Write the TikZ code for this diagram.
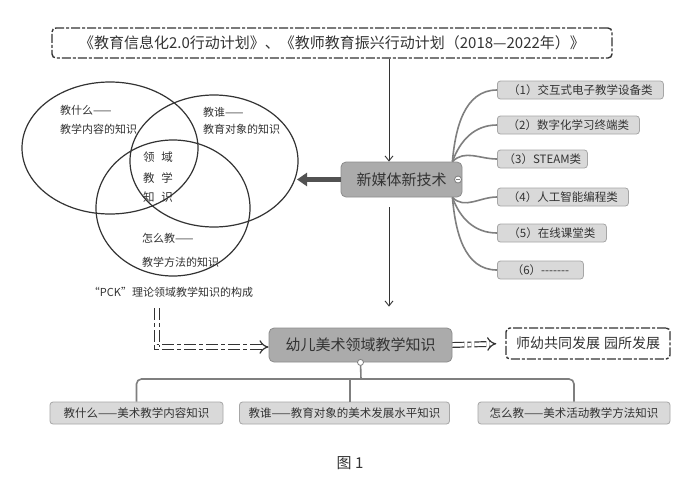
\documentclass[tikz,border=0pt]{standalone}
\usepackage{fontspec}
\setmainfont{Noto Sans CJK SC}
\usetikzlibrary{arrows.meta,calc}
\definecolor{dk}{HTML}{333333}
\definecolor{boxfill}{HTML}{ABABAB}
\definecolor{boxdraw}{HTML}{8C8C8C}
\definecolor{sfill}{HTML}{D9D9D9}
\definecolor{sdraw}{HTML}{A6A6A6}
\definecolor{br}{HTML}{7F7F7F}
\begin{document}
\begin{tikzpicture}[x=1pt,y=-1pt,
  fs/.style={font=\fontsize{#1}{#1}\selectfont},
  dashbox/.style={draw=dk, line width=1.4pt, rounded corners=4pt, dash pattern=on 9pt off 2pt on 3pt off 2pt, inner sep=0pt, text=dk},
  mainbox/.style={draw=boxdraw, fill=boxfill, rounded corners=5pt, line width=0.8pt, inner sep=0pt, text=dk, fs=15},
  smallbox/.style={draw=sdraw, fill=sfill, rounded corners=3pt, line width=0.8pt, inner sep=0pt, minimum height=18pt, text=dk, fs=11.5, anchor=west},
  botbox/.style={draw=sdraw, fill=sfill, rounded corners=3pt, line width=0.8pt, inner sep=0pt, minimum height=22pt, text=dk, fs=11.5},
  branch/.style={draw=br, line width=1.6pt},
  thinarrow/.style={draw=dk, line width=0.9pt, -{Straight Barb[length=5pt,width=8pt]}},
  dbl/.style={draw=dk, double=white, double distance=3.5pt, line width=1.2pt, dash pattern=on 12pt off 3pt on 4pt off 3pt, -{Implies[length=6pt]}},
  venn/.style={draw=dk, line width=1.2pt},
  vt/.style={text=dk, fs=11, inner sep=0pt},
  knob/.style={circle, draw=br, fill=white, line width=0.8pt, minimum size=7pt, inner sep=0pt},
]
\fill[white] (0,0) rectangle (700,501);
\useasboundingbox (0,0) rectangle (700,501);

% top box
\node[dashbox, minimum width=560pt, minimum height=30pt, fs=15] (top) at (332,43)
  {《教育信息化2.0行动计划》、《教师教育振兴行动计划（2018—2022年）》};

% Venn
\draw[venn] (110,148) ellipse [x radius=88, y radius=66];
\draw[venn] (214,161) ellipse [x radius=84, y radius=66];
\draw[venn] (173,208) ellipse [x radius=77, y radius=68];
\node[vt, anchor=west] (w1) at (60,110) {教什么——};
\node[vt, anchor=west] (w2) at (60,129) {教学内容的知识};
\node[vt, anchor=west] (s1) at (203,112) {教谁——};
\node[vt, anchor=west] (s2) at (203,129) {教育对象的知识};
\node[vt, fs=11.5] (c1) at (158,157) {领\hspace{7pt}域};
\node[vt, fs=11.5] (c2) at (158,178) {教\hspace{7pt}学};
\node[vt, fs=11.5] (c3) at (158,197) {知\hspace{7pt}识};
\node[vt, anchor=west] (h1) at (142,238) {怎么教——};
\node[vt, anchor=west] (h2) at (142,262) {教学方法的知识};
\node[vt] (pck) at (171,292) {“PCK”理论领域教学知识的构成};
\coordinate (venn) at (297,179.5);

% main boxes
\node[mainbox, minimum width=121pt, minimum height=35pt] (nm) at (401.5,179.5) {新媒体新技术};
\node[mainbox, minimum width=183pt, minimum height=34pt] (yy) at (360.5,345) {幼儿美术领域教学知识};
\node[dashbox, minimum width=164pt, minimum height=31pt, fs=14] (fz) at (588,343.5) {师幼共同发展\hspace{4pt}园所发展};

% right branch boxes
\node[smallbox, minimum width=166pt] (r1) at (497,90) {（1）交互式电子教学设备类};
\node[smallbox, minimum width=142pt] (r2) at (497,125) {（2）数字化学习终端类};
\node[smallbox, minimum width=90pt] (r3) at (497,159) {（3）STEAM类};
\node[smallbox, minimum width=131pt] (r4) at (497,197) {（4）人工智能编程类};
\node[smallbox, minimum width=109pt] (r5) at (497,233) {（5）在线课堂类};
\node[smallbox, minimum width=86pt] (r6) at (497,270) {（6）-{}-{}-{}-{}-{}-{}-};

\draw[branch] ([xshift=-10pt]nm.north east) to[out=85,in=180] (r1.west);
\draw[branch] ([xshift=-10pt]nm.north east) to[out=70,in=180] (r2.west);
\draw[branch] ([xshift=-10pt]nm.north east) to[out=45,in=180] (r3.west);
\draw[branch] ([xshift=-10pt]nm.south east) to[out=-45,in=180] (r4.west);
\draw[branch] ([xshift=-10pt]nm.south east) to[out=-70,in=180] (r5.west);
\draw[branch] ([xshift=-10pt]nm.south east) to[out=-85,in=180] (r6.west);
\node[knob] (nmk) at (458,179.5) {};
\draw[br, line width=0.8pt] ([xshift=-2pt]nmk.center) -- ([xshift=2pt]nmk.center);

% bottom boxes
\node[botbox, minimum width=173pt] (b1) at (136.5,413) {教什么——美术教学内容知识};
\node[botbox, minimum width=210pt] (b2) at (344.5,413) {教谁——教育对象的美术发展水平知识};
\node[botbox, minimum width=192pt] (b3) at (574,413) {怎么教——美术活动教学方法知识};
\coordinate (hb) at (361,379);
\coordinate (hm) at (350,379);
\draw[branch] (yy.south) -- (hb);
\draw[branch, rounded corners=5pt] (b1.north) |- (hb) -| (b3.north);
\draw[branch] (hm) -- (b2.north -| hm);
\node[knob, minimum size=6pt] (yyk) at (yy.south) {};

% arrows
\coordinate (ax) at (389,0);
\draw[thinarrow] (top.south -| ax) -- (nm.north -| ax);
\draw[thinarrow, shorten <=10pt, shorten >=21pt] (nm.south -| ax) -- (yy.north -| ax);
\draw[draw=dk!85, line width=5pt, -{Triangle[length=10pt,width=13pt]}] (nm.west) -- (venn);
\coordinate (pk) at (157,308);
\draw[dbl] (pk) |- ([yshift=-2pt]yy.west);
\draw[dbl, shorten >=9pt] (yy.east) -- (fz.west);

\node[fs=15, text=dk] (fig) at (350,463) {图 1};
\end{tikzpicture}
\end{document}
